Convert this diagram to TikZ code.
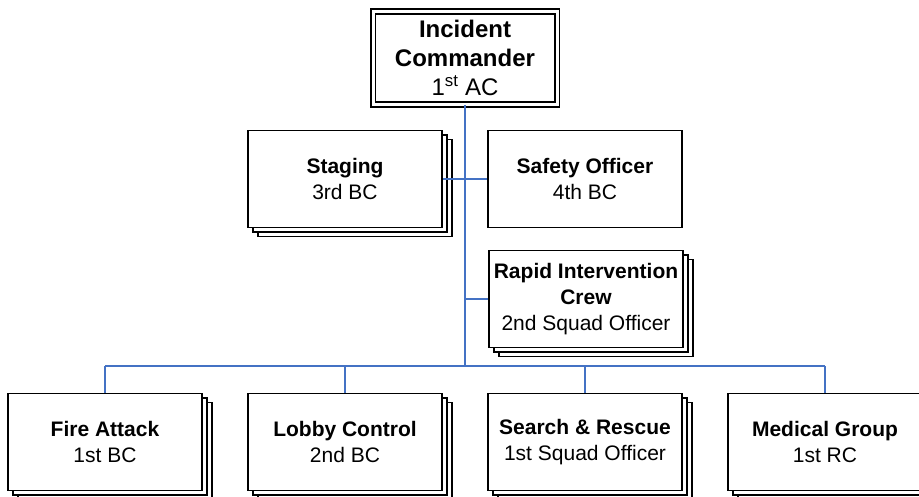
\documentclass[tikz,border=0pt]{standalone}
\usepackage{fontspec}
\setmainfont{Liberation Sans}
\usetikzlibrary{shadows}
\definecolor{connblue}{RGB}{68,114,196}
\tikzset{
  box/.style={draw=black, fill=white, line width=1.6pt, minimum width=194pt, minimum height=97pt,
    inner sep=0pt, align=center, font=\fontsize{21}{26}\selectfont},
  stacked/.style={box,
    copy shadow={shadow xshift=10pt, shadow yshift=-9pt, draw=black, fill=white},
    copy shadow={shadow xshift=5pt, shadow yshift=-4.5pt, draw=black, fill=white}},
  icbox/.style={draw=black, fill=white, line width=1.6pt, double=white, double distance=3pt,
    minimum width=184pt, minimum height=93pt, inner sep=0pt, align=center,
    font=\fontsize{24}{29}\selectfont},
  conn/.style={draw=connblue, line width=1.8pt}
}
\begin{document}
\begin{tikzpicture}[x=1pt,y=-1pt]
\useasboundingbox (0,0) rectangle (919,497);
\clip (0,0) rectangle (919,497);
\fill[white] (0,0) rectangle (919,497);
\coordinate (bus) at (465,366);
\node[icbox] (ic) at (465,58) {\textbf{Incident}\\\textbf{Commander}\\1\textsuperscript{st} AC};
\node[stacked] (stg) at (345,179) {\textbf{Staging}\\3rd BC};
\node[box] (saf) at (585,179) {\textbf{Safety Officer}\\4th BC};
\node[stacked] (ric) at (586,299) {\textbf{Rapid Intervention}\\\textbf{Crew}\\2nd Squad Officer};
\node[stacked] (fa) at (105,442) {\textbf{Fire Attack}\\1st BC};
\node[stacked] (lc) at (345,442) {\textbf{Lobby Control}\\2nd BC};
\node[stacked] (sr) at (585,442) {\textbf{Search \& Rescue}\\1st Squad Officer};
\node[stacked] (mg) at (825,442) {\textbf{Medical Group}\\1st RC};
\draw[conn] (ic.south) -- (ic.south |- bus);
\draw[conn] (stg.east) -- (saf.west);
\draw[conn] (ric.west) -- (ric.west -| ic.south);
\draw[conn] (fa.north |- bus) -- (mg.north |- bus);
\draw[conn] (fa.north) -- (fa.north |- bus);
\draw[conn] (lc.north) -- (lc.north |- bus);
\draw[conn] (sr.north) -- (sr.north |- bus);
\draw[conn] (mg.north) -- (mg.north |- bus);
\end{tikzpicture}
\end{document}
